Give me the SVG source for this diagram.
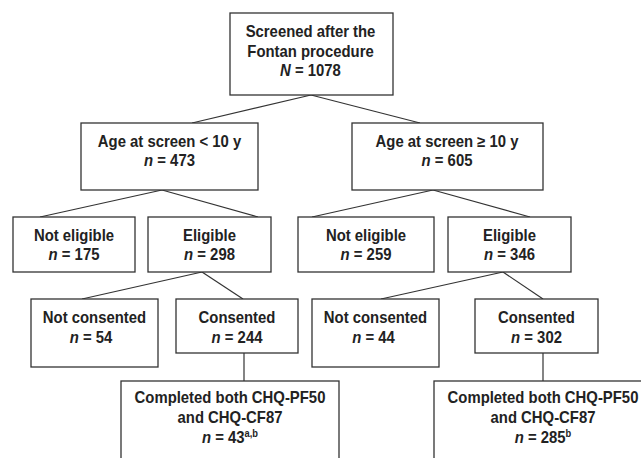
<svg xmlns="http://www.w3.org/2000/svg" width="641" height="458" viewBox="0 0 641 458">
<style>
.box{fill:#fff;stroke:#333;stroke-width:1.3}
.ln{stroke:#333;stroke-width:1.2;fill:none}
text{font-family:"Liberation Sans",Arial,sans-serif;font-weight:bold;font-size:16px;fill:#222;text-anchor:middle}
.i{font-style:italic}
.sup{font-size:10px}
</style>
<rect width="641" height="458" fill="#fff"/>
<g id="connectors">
<line class="ln" x1="311" y1="95" x2="192" y2="123"/>
<line class="ln" x1="311" y1="95" x2="420" y2="123"/>
<line class="ln" x1="162" y1="190" x2="40" y2="217"/>
<line class="ln" x1="162" y1="190" x2="258" y2="217"/>
<line class="ln" x1="433" y1="190" x2="312" y2="217"/>
<line class="ln" x1="433" y1="190" x2="530" y2="217"/>
<line class="ln" x1="202" y1="272" x2="82" y2="299"/>
<line class="ln" x1="202" y1="272" x2="243" y2="299"/>
<line class="ln" x1="503" y1="272" x2="381" y2="299"/>
<line class="ln" x1="503" y1="272" x2="543" y2="299"/>
<line class="ln" x1="244" y1="353" x2="244" y2="381"/>
<line class="ln" x1="543" y1="353" x2="543" y2="381"/>
</g>
<g id="screened">
<rect class="box" x="230" y="13" width="163" height="82"/>
<text transform="translate(310.5 37) scale(0.93 1)">Screened after the</text>
<text transform="translate(310.5 56.5) scale(0.93 1)">Fontan procedure</text>
<text transform="translate(310.5 76) scale(0.93 1)"><tspan class="i">N</tspan> = 1078</text>
</g>
<g id="age-lt10">
<rect class="box" x="81" y="123" width="177" height="67"/>
<text transform="translate(169.5 147) scale(0.93 1)">Age at screen &lt; 10 y</text>
<text transform="translate(169.5 166) scale(0.93 1)"><tspan class="i">n</tspan> = 473</text>
</g>
<g id="age-ge10">
<rect class="box" x="352" y="123" width="191" height="67"/>
<text transform="translate(447 147) scale(0.93 1)">Age at screen ≥ 10 y</text>
<text transform="translate(447 166) scale(0.93 1)"><tspan class="i">n</tspan> = 605</text>
</g>
<g id="not-eligible-left">
<rect class="box" x="13" y="217" width="122" height="55"/>
<text transform="translate(74 241) scale(0.93 1)">Not eligible</text>
<text transform="translate(74 260) scale(0.93 1)"><tspan class="i">n</tspan> = 175</text>
</g>
<g id="eligible-left">
<rect class="box" x="148" y="217" width="123" height="55"/>
<text transform="translate(209.5 241) scale(0.93 1)">Eligible</text>
<text transform="translate(209.5 260) scale(0.93 1)"><tspan class="i">n</tspan> = 298</text>
</g>
<g id="not-eligible-right">
<rect class="box" x="298" y="217" width="136" height="55"/>
<text transform="translate(366 241) scale(0.93 1)">Not eligible</text>
<text transform="translate(366 260) scale(0.93 1)"><tspan class="i">n</tspan> = 259</text>
</g>
<g id="eligible-right">
<rect class="box" x="448" y="217" width="123" height="55"/>
<text transform="translate(509.5 241) scale(0.93 1)">Eligible</text>
<text transform="translate(509.5 260) scale(0.93 1)"><tspan class="i">n</tspan> = 346</text>
</g>
<g id="not-consented-left">
<rect class="box" x="31" y="299" width="127" height="68"/>
<text transform="translate(94.5 323) scale(0.93 1)">Not consented</text>
<text transform="translate(91 343) scale(0.93 1)"><tspan class="i">n</tspan> = 54</text>
</g>
<g id="consented-left">
<rect class="box" x="176" y="299" width="122" height="54"/>
<text transform="translate(237 323) scale(0.93 1)">Consented</text>
<text transform="translate(237 343) scale(0.93 1)"><tspan class="i">n</tspan> = 244</text>
</g>
<g id="not-consented-right">
<rect class="box" x="312" y="299" width="127" height="68"/>
<text transform="translate(375.5 323) scale(0.93 1)">Not consented</text>
<text transform="translate(373.5 343) scale(0.93 1)"><tspan class="i">n</tspan> = 44</text>
</g>
<g id="consented-right">
<rect class="box" x="475" y="299" width="123" height="54"/>
<text transform="translate(536.5 323) scale(0.93 1)">Consented</text>
<text transform="translate(536.5 343) scale(0.93 1)"><tspan class="i">n</tspan> = 302</text>
</g>
<g id="completed-left">
<rect class="box" x="121" y="381" width="218" height="100"/>
<text transform="translate(230 403) scale(0.93 1)">Completed both CHQ-PF50</text>
<text transform="translate(230 423) scale(0.93 1)">and CHQ-CF87</text>
<text transform="translate(230 443) scale(0.93 1)"><tspan class="i">n</tspan> = 43<tspan class="sup" dy="-6">a,b</tspan></text>
</g>
<g id="completed-right">
<rect class="box" x="434" y="381" width="218" height="100"/>
<text transform="translate(543 403) scale(0.93 1)">Completed both CHQ-PF50</text>
<text transform="translate(543 423) scale(0.93 1)">and CHQ-CF87</text>
<text transform="translate(543 443) scale(0.93 1)"><tspan class="i">n</tspan> = 285<tspan class="sup" dy="-6">b</tspan></text>
</g>
</svg>
